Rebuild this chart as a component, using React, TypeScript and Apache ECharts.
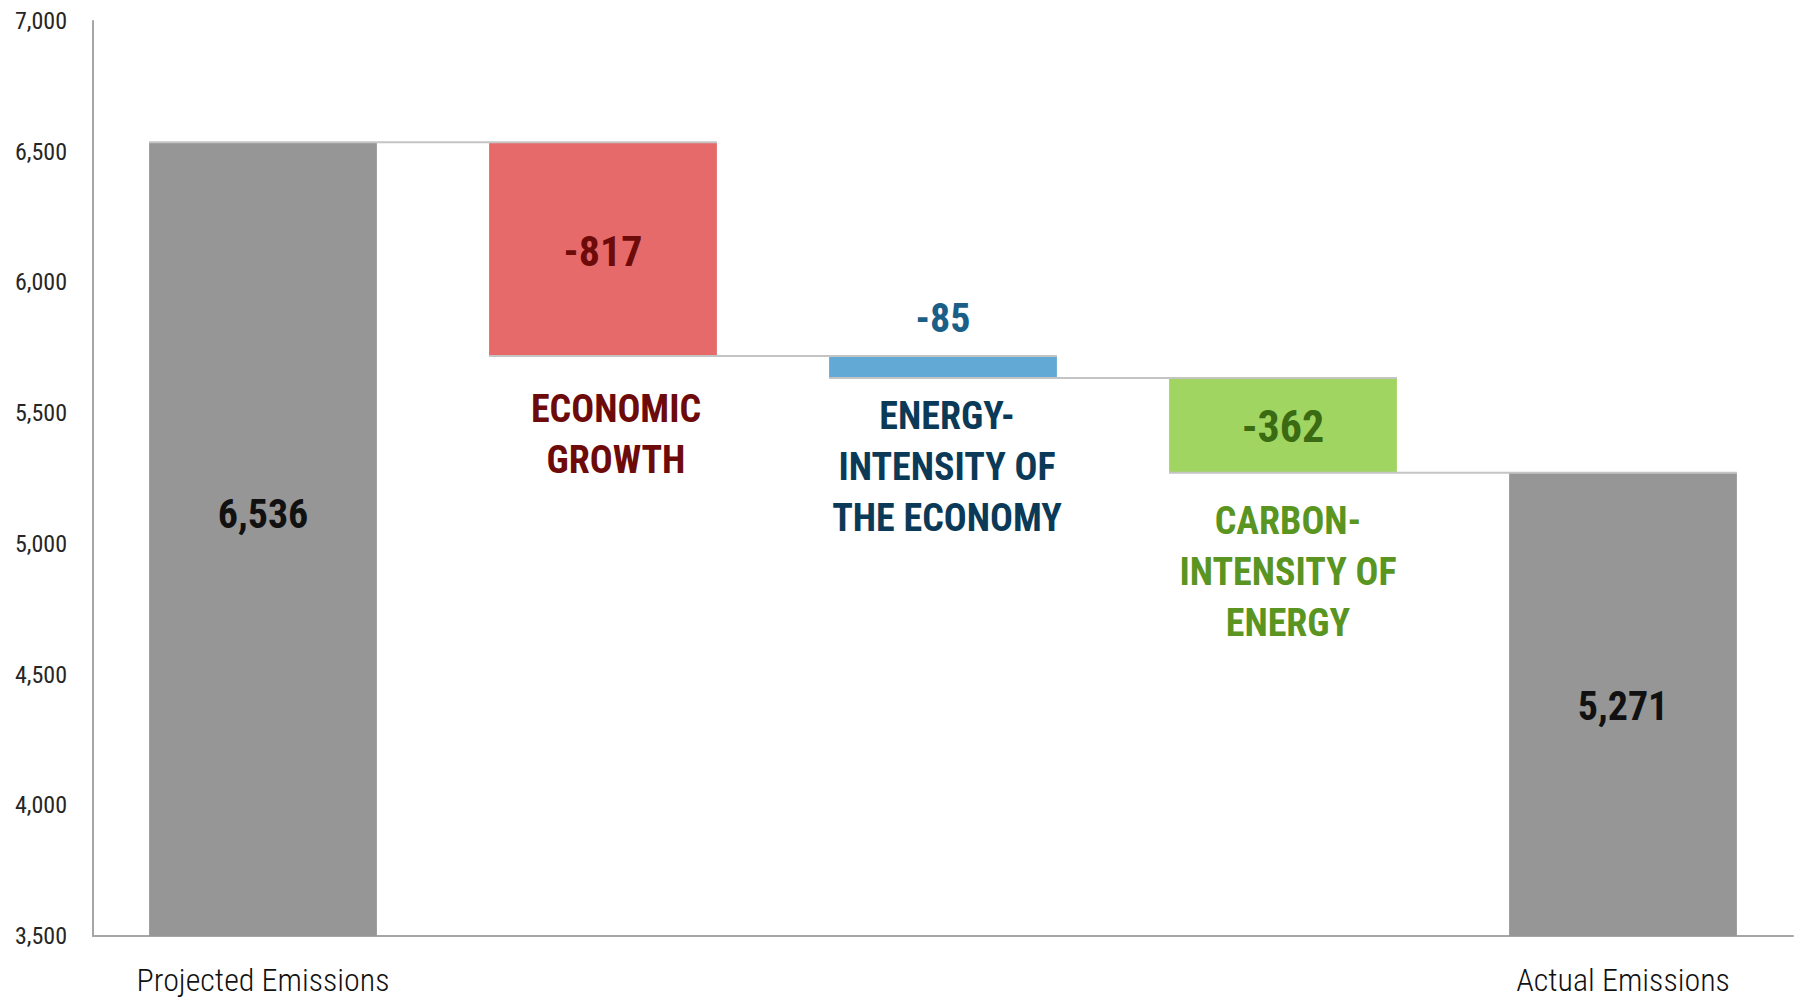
import React, { useEffect, useRef } from "react";
import * as echarts from "echarts";

// ---- data ----
const categories = [
  "Projected Emissions",
  "Economic Growth",
  "Energy-Intensity of the Economy",
  "Carbon-Intensity of Energy",
  "Actual Emissions",
];
const startValue = 6536;
const changes = [-817, -85, -362];
const endValue = 5271;
const annotationTexts = [
  "ECONOMIC\nGROWTH",
  "ENERGY-\nINTENSITY OF\nTHE ECONOMY",
  "CARBON-\nINTENSITY OF\nENERGY",
];
const yMin = 3500;
const yMax = 7000;
const yInterval = 500;

// ---- styles ----
const FONT = "'Roboto Condensed', Roboto, sans-serif";
const GRAY = "#969696";
const barColors = [GRAY, "#e66a6a", "#63a9d6", "#a1d562", GRAY];
const valueLabelColors = ["#111111", "#6d0a0a", "#1b5e86", "#3a6a12", "#111111"];
const valueLabelSizes = [40, 42, 40, 44, 40];
const annotationColors = ["#6d0a0a", "#0a3a57", "#5a9421"];
const annotationOffsets = [
  [13, 28],
  [4, 12],
  [5, 23],
];
const BAR_RATIO = 0.67;

function fmt(n: number): string {
  const s = Math.abs(n).toString().replace(/\B(?=(\d{3})+(?!\d))/g, ",");
  return n < 0 ? "-" + s : s;
}

export default function App() {
  const ref = useRef<HTMLDivElement>(null);

  useEffect(() => {
    document.body.style.margin = "0";
    if (!ref.current) return;
    const chart = echarts.init(ref.current, undefined, { renderer: "svg" });

    // waterfall construction
    const bases: number[] = [0];
    const heights: number[] = [startValue];
    const levels: number[] = [startValue];
    let run = startValue;
    changes.forEach((c) => {
      const next = run + c;
      bases.push(next);
      heights.push(-c);
      levels.push(next);
      run = next;
    });
    bases.push(0);
    heights.push(endValue);
    const shown = [startValue, ...changes, endValue];

    const valueData = heights.map((h, i) => {
      const isTop = i === 2;
      return {
        value: h,
        itemStyle: { color: barColors[i] },
        label: {
          show: true,
          position: isTop ? "top" : "inside",
          distance: isTop ? 19 : 5,
          offset: i === 0 ? [0, -25] : [0, 2],
          formatter: () => fmt(shown[i]),
          color: valueLabelColors[i],
          fontSize: valueLabelSizes[i],
          fontWeight: "bold",
          fontFamily: FONT,
        },
      };
    });

    const connectorData = levels.map((lvl, i) => [i, lvl]);
    const annotationData = changes.map((_, k) => [k + 1, bases[k + 1]]);

    chart.setOption({
      animation: false,
      grid: { left: 93, right: 3, top: 21, bottom: 62, containLabel: false },
      xAxis: {
        type: "category",
        data: categories,
        axisLine: { show: true, lineStyle: { color: "#a6a6a6", width: 2 } },
        axisTick: { show: false },
        axisLabel: {
          interval: 0,
          formatter: (v: string, i: number) =>
            i === 0 || i === categories.length - 1 ? v : "",
          fontSize: 32,
          fontWeight: 300,
          color: "#111111",
          margin: 28,
          fontFamily: FONT,
        },
      },
      yAxis: {
        type: "value",
        min: yMin,
        max: yMax,
        interval: yInterval,
        splitLine: { show: false },
        axisLine: { show: true, lineStyle: { color: "#a6a6a6", width: 2 } },
        axisTick: { show: false },
        axisLabel: {
          formatter: (v: number) => fmt(v),
          fontSize: 24,
          color: "#262626",
          margin: 26,
          fontFamily: FONT,
        },
      },
      series: [
        {
          type: "bar",
          stack: "wf",
          data: bases,
          itemStyle: { color: "transparent" },
          barCategoryGap: "33%",
          silent: true,
          z: 2,
        },
        {
          type: "bar",
          stack: "wf",
          data: valueData,
          barCategoryGap: "33%",
          z: 2,
        },
        {
          type: "custom",
          silent: true,
          z: 5,
          data: connectorData,
          renderItem: (params: any, api: any) => {
            const i = api.value(0);
            const lvl = api.value(1);
            if (i >= categories.length - 1) return null;
            const a = api.coord([i, lvl]);
            const b = api.coord([i + 1, lvl]);
            const half = (api.size([1, 0])[0] * BAR_RATIO) / 2;
            return {
              type: "line",
              shape: { x1: a[0] - half, y1: a[1], x2: b[0] + half, y2: b[1] },
              style: { stroke: "#c4c4c4", lineWidth: 2 },
            };
          },
        },
        {
          type: "custom",
          silent: true,
          z: 6,
          data: annotationData,
          renderItem: (params: any, api: any) => {
            const k = params.dataIndex;
            const p = api.coord([api.value(0), api.value(1)]);
            const off = annotationOffsets[k];
            return {
              type: "text",
              x: p[0] + off[0],
              y: p[1] + off[1],
              style: {
                text: annotationTexts[k],
                fill: annotationColors[k],
                fontSize: 38,
                fontWeight: "bold",
                fontFamily: FONT,
                align: "center",
                verticalAlign: "top",
                lineHeight: 51,
              },
            };
          },
        },
      ],
    });

    return () => chart.dispose();
  }, []);

  return <div ref={ref} style={{ width: 1796, height: 998 }} />;
}
